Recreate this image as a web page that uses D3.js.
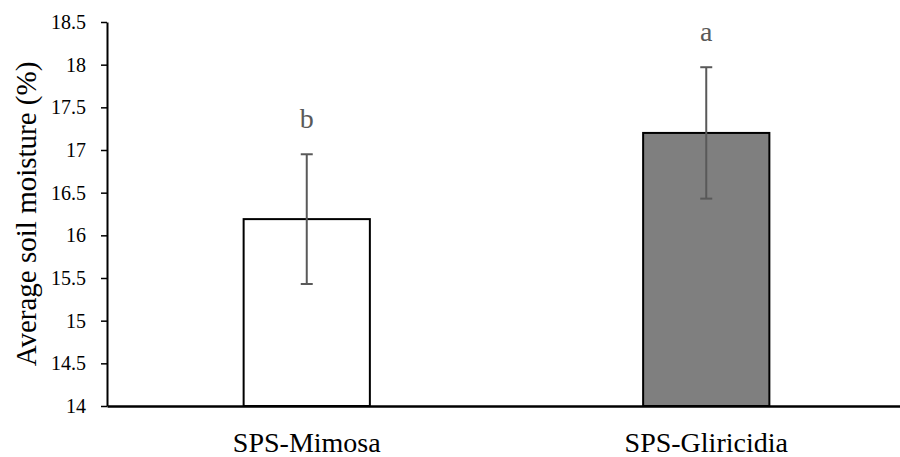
<!DOCTYPE html>
<html><head><meta charset="utf-8">
<script src="https://cdn.jsdelivr.net/npm/d3@7"></script>
<style>body{margin:0;background:#fff}svg{display:block}text{font-family:"Liberation Serif",serif}</style>
</head><body>
<svg id="c" width="900" height="457"></svg>
<script>
const categories = ["SPS-Mimosa", "SPS-Gliricidia"];
const means = [16.19, 17.2];
const errors = [0.76, 0.77];
const letters = ["b", "a"];
const yTicks = [14, 14.5, 15, 15.5, 16, 16.5, 17, 17.5, 18, 18.5];
const fills = ["#ffffff", "#7f7f7f"];

(function(){
const svg = d3.select("#c");
const mLeft = 107, mRight = 906, mTop = 22, mBottom = 406;
const x = d3.scaleBand().domain(categories).range([mLeft, mRight]).paddingInner(0.684).paddingOuter(0.342);
const y = d3.scaleLinear().domain([14, 18.5]).range([mBottom, mTop]);

// bars
svg.selectAll("rect.bar").data(categories).join("rect")
  .attr("x", d => x(d)).attr("width", x.bandwidth())
  .attr("y", (d,i) => y(means[i])).attr("height", (d,i) => mBottom - y(means[i]))
  .attr("fill", (d,i) => fills[i]).attr("stroke", "#000").attr("stroke-width", 2);

// error bars
const eb = svg.selectAll("g.eb").data(categories).join("g").attr("stroke", "#595959").attr("stroke-width", 2);
eb.append("line").attr("x1", d => x(d)+x.bandwidth()/2).attr("x2", d => x(d)+x.bandwidth()/2)
  .attr("y1", (d,i) => y(means[i]+errors[i])).attr("y2", (d,i) => y(means[i]-errors[i]));
eb.append("line").attr("x1", d => x(d)+x.bandwidth()/2-6).attr("x2", d => x(d)+x.bandwidth()/2+6)
  .attr("y1", (d,i) => y(means[i]+errors[i])).attr("y2", (d,i) => y(means[i]+errors[i]));
eb.append("line").attr("x1", d => x(d)+x.bandwidth()/2-6).attr("x2", d => x(d)+x.bandwidth()/2+6)
  .attr("y1", (d,i) => y(means[i]-errors[i])).attr("y2", (d,i) => y(means[i]-errors[i]));

// letters
svg.selectAll("text.lt").data(categories).join("text")
  .attr("x", d => x(d)+x.bandwidth()/2).attr("y", (d,i) => y(means[i]+errors[i]) - 26)
  .attr("text-anchor", "middle").attr("font-size", 28).attr("fill", "#595959")
  .text((d,i) => letters[i]);

// y axis
const ya = svg.append("g").attr("transform", `translate(${mLeft},0)`)
  .call(d3.axisLeft(y).tickValues(yTicks).tickFormat(d => String(d)).tickSize(6).tickSizeOuter(0));
ya.attr("font-family", null);
ya.select(".domain").attr("stroke", "#000").attr("stroke-width", 2);
ya.selectAll(".tick line").attr("stroke", "#000").attr("stroke-width", 1.5);
ya.selectAll(".tick text").attr("font-size", 20).attr("fill", "#000").attr("x", -21).attr("dy", "0.32em");

// x axis
const xa = svg.append("g").attr("transform", `translate(0,${mBottom})`)
  .call(d3.axisBottom(x).tickSize(0).tickSizeOuter(0));
xa.attr("font-family", null);
xa.select(".domain").attr("stroke", "#000").attr("stroke-width", 2.5);
xa.selectAll(".tick text").attr("font-size", 28).attr("fill", "#000").attr("y", 46).attr("dy", 0);

// y title
svg.append("text").attr("transform", `translate(36,214) rotate(-90)`).attr("text-anchor", "middle")
  .attr("font-size", 29).attr("fill", "#000").text("Average soil moisture (%)");
})();
</script>
</body></html>
